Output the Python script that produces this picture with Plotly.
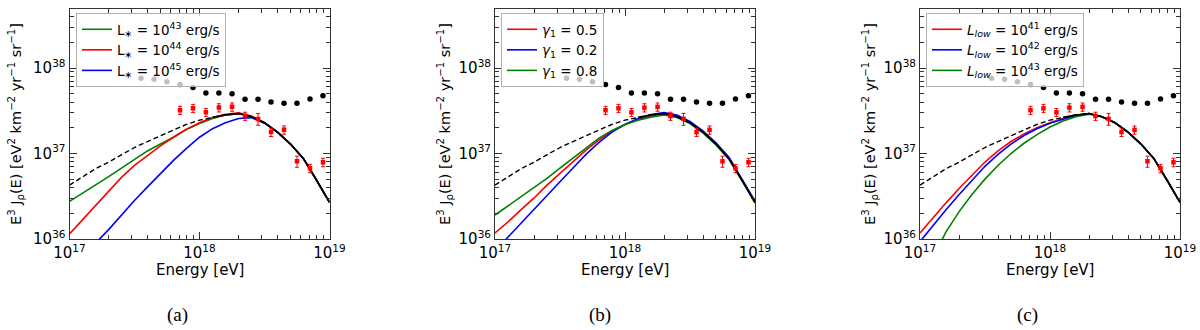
import plotly.graph_objects as go

# ---------------- data ----------------
energy = [1.0e17, 1.26e17, 1.58e17, 2.0e17, 2.51e17, 3.16e17, 3.98e17, 5.01e17, 6.31e17, 7.94e17,
          1.0e18, 1.26e18, 1.58e18, 2.0e18, 2.51e18, 3.16e18, 3.98e18, 5.01e18, 6.31e18, 7.94e18, 1.0e19]

total_dashed = [4.27e36, 5.37e36, 6.61e36, 7.94e36, 9.55e36, 1.175e37, 1.38e37, 1.62e37, 1.905e37, 2.19e37,
                2.455e37, 2.66e37, 2.82e37, 2.93e37, 2.69e37, 2.29e37, 1.78e37, 1.29e37, 8.71e36, 4.90e36, 2.69e36]
energy_solid = [1.26e18, 1.58e18, 2.0e18, 2.51e18, 3.16e18, 3.98e18, 5.01e18, 6.31e18, 7.94e18, 1.0e19]
total_solid = [2.66e37, 2.82e37, 2.93e37, 2.69e37, 2.29e37, 1.78e37, 1.29e37, 8.71e36, 4.90e36, 2.69e36]

# panel (a): L* variations
a_green = [2.75e36, 3.47e36, 4.27e36, 5.37e36, 6.76e36, 8.51e36, 1.072e37, 1.29e37, 1.55e37, 1.905e37,
           2.24e37, 2.57e37, 2.82e37, 2.93e37, 2.69e37, 2.29e37, 1.78e37, 1.29e37, 8.71e36, 4.90e36, 2.69e36]
a_red = [1.148e36, 1.679e36, 2.455e36, 3.589e36, 5.248e36, 7.244e36, 9.55e36, 1.23e37, 1.55e37, 1.928e37,
         2.29e37, 2.63e37, 2.88e37, 2.985e37, 2.75e37, 2.29e37, 1.78e37, 1.29e37, 8.71e36, 4.90e36, 2.69e36]
a_blue = [4.17e35, 6.17e35, 8.91e35, 1.288e36, 1.905e36, 2.818e36, 4.074e36, 5.888e36, 8.318e36, 1.148e37,
          1.549e37, 1.95e37, 2.29e37, 2.57e37, 2.63e37, 2.265e37, 1.78e37, 1.29e37, 8.71e36, 4.90e36, 2.69e36]

# panel (b): gamma_1 variations
b_red = [1.175e36, 1.585e36, 2.188e36, 3.02e36, 4.266e36, 5.888e36, 8.128e36, 1.096e37, 1.445e37, 1.82e37,
         2.188e37, 2.512e37, 2.754e37, 2.917e37, 2.72e37, 2.29e37, 1.78e37, 1.29e37, 8.71e36, 4.90e36, 2.69e36]
b_blue = [7.24e35, 1.047e36, 1.514e36, 2.239e36, 3.236e36, 4.677e36, 6.761e36, 9.772e36, 1.349e37, 1.778e37,
          2.188e37, 2.57e37, 2.85e37, 3.02e37, 2.818e37, 2.37e37, 1.84e37, 1.334e37, 9.02e36, 5.07e36, 2.786e36]
b_green = [1.905e36, 2.455e36, 3.09e36, 3.981e36, 5.129e36, 6.761e36, 8.913e36, 1.175e37, 1.514e37, 1.862e37,
           2.188e37, 2.455e37, 2.66e37, 2.818e37, 2.63e37, 2.239e37, 1.738e37, 1.259e37, 8.511e36, 4.786e36, 2.63e36]

# panel (c): L_low variations
c_red = [1.175e36, 1.778e36, 2.63e36, 3.89e36, 5.623e36, 7.943e36, 1.072e37, 1.38e37, 1.698e37, 1.995e37,
         2.29e37, 2.57e37, 2.786e37, 2.93e37, 2.69e37, 2.29e37, 1.78e37, 1.29e37, 8.71e36, 4.90e36, 2.69e36]
c_blue = [9.33e35, 1.445e36, 2.188e36, 3.311e36, 4.898e36, 7.079e36, 9.772e36, 1.288e37, 1.622e37, 1.95e37,
          2.265e37, 2.541e37, 2.786e37, 2.93e37, 2.69e37, 2.29e37, 1.78e37, 1.29e37, 8.71e36, 4.90e36, 2.69e36]
c_green = [2.239e35, 6.026e35, 1.202e36, 2.089e36, 3.311e36, 5.012e36, 7.244e36, 1.0e37, 1.318e37, 1.66e37,
           2.042e37, 2.399e37, 2.692e37, 2.884e37, 2.69e37, 2.29e37, 1.78e37, 1.29e37, 8.71e36, 4.90e36, 2.69e36]

# observed data
black_E = [3.55e17, 4.47e17, 5.62e17, 7.08e17, 8.91e17, 1.12e18, 1.41e18, 1.78e18, 2.24e18, 2.82e18,
           3.55e18, 4.47e18, 5.62e18, 7.08e18, 8.91e18]
black_flux = [7.6e37, 7.4e37, 6.9e37, 6.4e37, 5.9e37, 5.1e37, 5.1e37, 5.0e37, 4.31e37, 4.31e37,
              4.01e37, 3.87e37, 3.87e37, 4.35e37, 4.75e37]
black_err = [0.25e37, 0.24e37, 0.22e37, 0.2e37, 0.18e37, 0.16e37, 0.16e37, 0.16e37, 0.14e37, 0.14e37,
             0.13e37, 0.13e37, 0.13e37, 0.15e37, 0.17e37]
red_E = [7.08e17, 8.91e17, 1.12e18, 1.41e18, 1.78e18, 2.24e18, 2.82e18, 3.55e18, 4.47e18, 5.62e18,
         7.08e18, 8.91e18]
red_flux = [3.21e37, 3.38e37, 3.03e37, 3.44e37, 3.51e37, 2.74e37, 2.54e37, 1.78e37, 1.89e37, 8.1e36,
            6.7e36, 7.9e36]
red_err = [0.35e37, 0.37e37, 0.33e37, 0.38e37, 0.39e37, 0.30e37, 0.40e37, 0.20e37, 0.21e37, 0.12e37,
           0.075e37, 0.09e37]

x_tickvals = [1e17, 1e18, 1e19]
x_ticktext = ["10<sup>17</sup>", "10<sup>18</sup>", "10<sup>19</sup>"]
y_tickvals = [1e36, 1e37, 1e38]
y_ticktext = ["10<sup>36</sup>", "10<sup>37</sup>", "10<sup>38</sup>"]

panels = [
    dict(curves=[("L<sub>∗</sub> = 10<sup>43</sup> erg/s", "#008000", a_green),
                 ("L<sub>∗</sub> = 10<sup>44</sup> erg/s", "#ff0000", a_red),
                 ("L<sub>∗</sub> = 10<sup>45</sup> erg/s", "#0000ff", a_blue)]),
    dict(curves=[("<i>γ</i><sub>1</sub> = 0.5", "#ff0000", b_red),
                 ("<i>γ</i><sub>1</sub> = 0.2", "#0000ff", b_blue),
                 ("<i>γ</i><sub>1</sub> = 0.8", "#008000", b_green)]),
    dict(curves=[("<i>L<sub>low</sub></i> = 10<sup>41</sup> erg/s", "#ff0000", c_red),
                 ("<i>L<sub>low</sub></i> = 10<sup>42</sup> erg/s", "#0000ff", c_blue),
                 ("<i>L<sub>low</sub></i> = 10<sup>43</sup> erg/s", "#008000", c_green)]),
]

# ---------------- layout geometry (pixels) ----------------
W, H = 1200, 330
plot_left = [69.5, 495, 920]
plot_w = 260
plot_top, plot_bot = 9, 239
legend_pos = [(76, 13), (501, 13), (926, 13)]
ytitle_x = [16, 445, 870]
caption_x = [177, 600, 1027]
captions = ["(a)", "(b)", "(c)"]

FONT = "DejaVu Sans"
AXC = "#333333"

fig = go.Figure()
layout = dict(width=W, height=H, margin=dict(l=0, r=0, t=0, b=0, autoexpand=False),
              paper_bgcolor="white", plot_bgcolor="white", annotations=[])

minor_x = [float(k) * 10.0 ** d for d in (17, 18) for k in range(2, 10)]
minor_y = [float(k) * 10.0 ** d for d in (36, 37, 38) for k in range(2, 10)]

for i, p in enumerate(panels):
    sfx = "" if i == 0 else str(i + 1)
    xa, ya = "x" + sfx, "y" + sfx
    leg = "legend" + sfx
    for name, col, vals in p["curves"]:
        fig.add_trace(go.Scatter(x=energy, y=vals, mode="lines", name=name,
                                 line=dict(color=col, width=1.6), xaxis=xa, yaxis=ya, legend=leg))
    fig.add_trace(go.Scatter(x=energy, y=total_dashed, mode="lines", showlegend=False,
                             line=dict(color="black", width=1.4, dash="5px,3px"), xaxis=xa, yaxis=ya))
    fig.add_trace(go.Scatter(x=energy_solid, y=total_solid, mode="lines", showlegend=False,
                             line=dict(color="black", width=1.6), xaxis=xa, yaxis=ya))
    fig.add_trace(go.Scatter(x=black_E, y=black_flux, mode="markers", showlegend=False,
                             marker=dict(color="black", size=5.5),
                             error_y=dict(type="data", array=black_err, color="black", thickness=1.5, width=0),
                             xaxis=xa, yaxis=ya))
    fig.add_trace(go.Scatter(x=red_E, y=red_flux, mode="markers", showlegend=False,
                             marker=dict(color="red", size=4.5, symbol="square"),
                             error_y=dict(type="data", array=red_err, color="red", thickness=1, width=2),
                             xaxis=xa, yaxis=ya))

    x0 = plot_left[i] / W
    x1 = (plot_left[i] + plot_w) / W
    layout["xaxis" + sfx] = dict(
        type="log", range=[17, 19], domain=[x0, x1], anchor=ya, automargin=False,
        tickvals=x_tickvals, ticktext=x_ticktext, ticks="inside", ticklen=7, tickwidth=1,
        tickcolor=AXC, showline=True, linecolor=AXC, linewidth=1, mirror="allticks",
        showgrid=False, zeroline=False, tickfont=dict(family=FONT, size=15, color="black"),
        minor=dict(tickvals=minor_x, ticks="inside", ticklen=4, tickcolor=AXC, showgrid=False))
    layout["yaxis" + sfx] = dict(
        type="log", range=[36, 38.69], domain=[1 - plot_bot / H, 1 - plot_top / H], anchor=xa,
        automargin=False,
        tickvals=y_tickvals, ticktext=y_ticktext, ticks="inside", ticklen=7, tickwidth=1,
        tickcolor=AXC, showline=True, linecolor=AXC, linewidth=1, mirror="allticks",
        showgrid=False, zeroline=False, tickfont=dict(family=FONT, size=15, color="black"),
        minor=dict(tickvals=minor_y, ticks="inside", ticklen=4, tickcolor=AXC, showgrid=False))
    lx, ly = legend_pos[i]
    layout[leg] = dict(x=lx / W, y=1 - ly / H, xanchor="left", yanchor="top",
                       bgcolor="rgba(255,255,255,0.75)", bordercolor="#b0b0b0", borderwidth=1,
                       font=dict(family=FONT, size=13.5, color="black"), tracegroupgap=0,
                       itemwidth=30)
    layout["annotations"].append(dict(
        x=ytitle_x[i] / W, y=1 - ((plot_top + plot_bot) / 2) / H, xref="paper", yref="paper",
        text="E<sup>3</sup> J<sub>ρ</sub>(E) [eV<sup>2</sup> km<sup>−2</sup> yr<sup>−1</sup> sr<sup>−1</sup>]",
        textangle=-90, showarrow=False, xanchor="center", yanchor="middle",
        font=dict(family=FONT, size=14.5, color="black")))
    layout["annotations"].append(dict(
        x=(plot_left[i] + plot_w / 2) / W, y=1 - 270 / H, xref="paper", yref="paper",
        text="Energy [eV]", showarrow=False, xanchor="center", yanchor="middle",
        font=dict(family=FONT, size=15, color="black")))
    layout["annotations"].append(dict(
        x=caption_x[i] / W, y=1 - 315 / H, xref="paper", yref="paper",
        text=captions[i], showarrow=False, xanchor="center", yanchor="middle",
        font=dict(family="Liberation Serif", size=19, color="black")))

fig.update_layout(**layout)
fig.write_html("out.html", config={"displayModeBar": False},
               post_script="document.body.style.margin='0';document.body.style.overflow='hidden';")
